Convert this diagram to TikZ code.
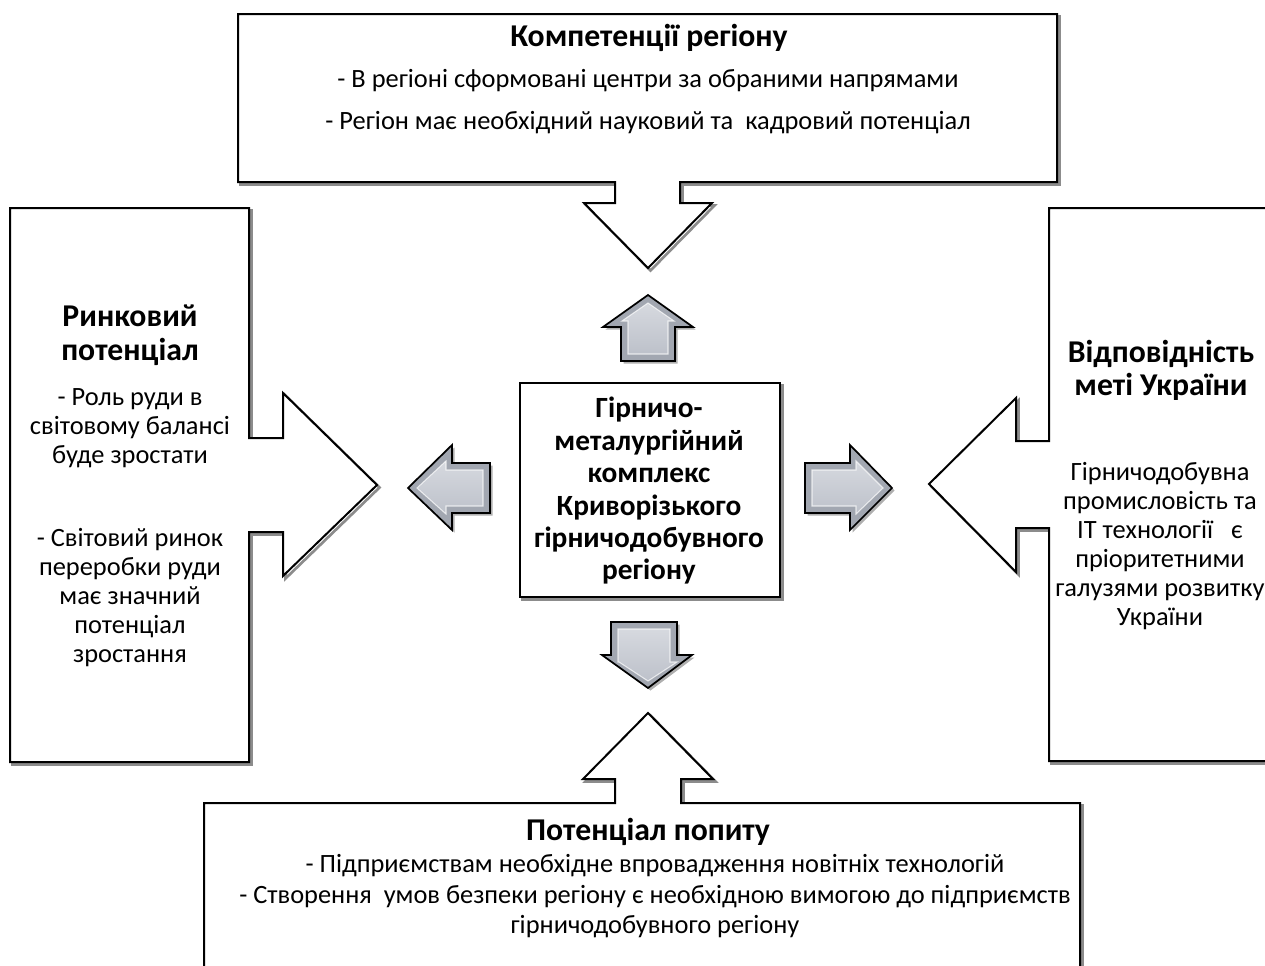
\documentclass[tikz,border=0pt]{standalone}
\usepackage{fontspec}
\setmainfont{Carlito}
\definecolor{arrlite}{HTML}{D6D9DF}
\definecolor{arrmid}{HTML}{BDC1CA}
\definecolor{arrdark}{HTML}{A2A7B1}
\definecolor{shadowgray}{HTML}{8C8C8C}
\begin{document}
\begin{tikzpicture}[x=0.75pt,y=-0.75pt,
  callout/.style={draw=black,line width=1.5pt,fill=white,line join=miter},
  cshadow/.style={draw=shadowgray,line width=2pt,line join=miter},
  bevelout/.style={draw=black,line width=1.3pt,fill=arrdark,line join=miter},
  bevelin/.style={top color=arrlite,bottom color=arrmid,draw=white,draw opacity=0.7,line width=0.8pt},
  ashadow/.style={fill=shadowgray!70},
  ttl/.style={font=\bfseries\fontsize{23.8}{25.5}\selectfont,align=center,inner sep=0pt},
  txt/.style={font=\fontsize{19.8}{21.75}\selectfont,align=center,inner sep=0pt},
  ctr/.style={font=\bfseries\fontsize{22}{24.3}\selectfont,align=center,inner sep=0pt}]
\useasboundingbox (0,0) rectangle (1265,965);
\clip (0,0) rectangle (1265,965);

% ---------- top callout ----------
\draw[cshadow,shift={(2.5,2.5)}] (238,14) -- (1057,14) -- (1057,182) -- (680,182) -- (680,203) -- (712,203) -- (648,268) -- (584,203) -- (615,203) -- (615,182) -- (238,182) -- cycle;
\draw[callout] (238,14) -- (1057,14) -- (1057,182) -- (680,182) -- (680,203) -- (712,203) -- (648,268) -- (584,203) -- (615,203) -- (615,182) -- (238,182) -- cycle;
\node[ttl] (toptitle) at (649,38) {Компетенції регіону};
\node[txt,font=\fontsize{19.8}{31.5}\selectfont] (topbody) at (648,102) {- В регіоні сформовані центри за обраними напрямами\\- Регіон має необхідний науковий та\ \ кадровий потенціал};

% ---------- left callout ----------
\draw[cshadow,shift={(2.5,2.5)}] (10,208) -- (249,208) -- (249,438) -- (283,438) -- (283,393) -- (377,485) -- (283,576) -- (283,532) -- (249,532) -- (249,762) -- (10,762) -- cycle;
\draw[callout] (10,208) -- (249,208) -- (249,438) -- (283,438) -- (283,393) -- (377,485) -- (283,576) -- (283,532) -- (249,532) -- (249,762) -- (10,762) -- cycle;
\node[ttl] (lefttitle) at (130,335) {Ринковий\\потенціал};
\node[txt] (leftbodyA) at (130,428) {- Роль руди в\\світовому балансі\\буде зростати};
\node[txt] (leftbodyB) at (130,598) {- Світовий ринок\\переробки руди\\має значний\\потенціал\\зростання};

% ---------- right callout ----------
\draw[cshadow,shift={(2.5,2.5)}] (1275,208) -- (1049,208) -- (1049,441) -- (1016,441) -- (1016,398) -- (929,484) -- (1016,572) -- (1016,528) -- (1049,528) -- (1049,761) -- (1275,761);
\draw[callout] (1275,208) -- (1049,208) -- (1049,441) -- (1016,441) -- (1016,398) -- (929,484) -- (1016,572) -- (1016,528) -- (1049,528) -- (1049,761) -- (1275,761) -- cycle;
\node[ttl,font=\bfseries\fontsize{23.8}{24.75}\selectfont] (righttitle) at (1161,370) {Відповідність\\меті України};
\node[txt] (rightbody) at (1160,546) {Гірничодобувна\\промисловість та\\IT технології\ \ \ є\\пріоритетними\\галузями розвитку\\України};

% ---------- bottom callout ----------
\draw[cshadow,shift={(2.5,2.5)}] (204,975) -- (204,803) -- (615,803) -- (615,779) -- (583,779) -- (648,713) -- (713,779) -- (681,779) -- (681,803) -- (1080,803) -- (1080,975);
\draw[callout] (204,975) -- (204,803) -- (615,803) -- (615,779) -- (583,779) -- (648,713) -- (713,779) -- (681,779) -- (681,803) -- (1080,803) -- (1080,975) -- cycle;
\node[ttl] (bottitle) at (648,832) {Потенціал попиту};
\node[txt,font=\fontsize{19.8}{22.9}\selectfont] (botbody) at (655,896.5) {- Підприємствам необхідне впровадження новітніх технологій\\- Створення\ \ умов безпеки регіону є необхідною вимогою до підприємств\\гірничодобувного регіону};

% ---------- central box ----------
\draw[cshadow,shift={(2.5,2.5)}] (520,383) rectangle (780,597);
\draw[callout,line width=1.3pt] (520,383) rectangle (780,597);
\node[ctr] (center) at (649,491) {Гірничо-\\металургійний\\комплекс\\Криворізького\\гірничодобувного\\регіону};

% ---------- small bevelled arrows ----------
% up
\fill[ashadow,shift={(2.5,2.5)}] (621,361) -- (621,327) -- (603,327) -- (648,295) -- (693,327) -- (675,327) -- (675,361) -- cycle;
\draw[bevelout] (621,361) -- (621,327) -- (603,327) -- (648,295) -- (693,327) -- (675,327) -- (675,361) -- cycle;
\shade[bevelin] (628,354) -- (628,321) -- (622,321) -- (648,303) -- (674,321) -- (668,321) -- (668,354) -- cycle;
% down
\fill[ashadow,shift={(2.5,2.5)}] (611,622) -- (677,622) -- (677,655) -- (692,655) -- (648,688) -- (602,655) -- (611,655) -- cycle;
\draw[bevelout] (611,622) -- (677,622) -- (677,655) -- (692,655) -- (648,688) -- (602,655) -- (611,655) -- cycle;
\shade[bevelin] (618,629) -- (670,629) -- (670,662) -- (677,662) -- (648,681) -- (619,662) -- (618,662) -- cycle;
% left
\fill[ashadow,shift={(2.5,2.5)}] (490,463) -- (452,463) -- (452,445) -- (408,488) -- (452,530) -- (452,513) -- (490,513) -- cycle;
\draw[bevelout] (490,463) -- (452,463) -- (452,445) -- (408,488) -- (452,530) -- (452,513) -- (490,513) -- cycle;
\shade[bevelin] (483,470) -- (446,470) -- (446,461) -- (417,488) -- (446,514) -- (446,506) -- (483,506) -- cycle;
% right
\fill[ashadow,shift={(2.5,2.5)}] (805,463) -- (850,463) -- (850,445) -- (892,488) -- (850,530) -- (850,513) -- (805,513) -- cycle;
\draw[bevelout] (805,463) -- (850,463) -- (850,445) -- (892,488) -- (850,530) -- (850,513) -- (805,513) -- cycle;
\shade[bevelin] (812,470) -- (856,470) -- (856,461) -- (883,488) -- (856,514) -- (856,506) -- (812,506) -- cycle;
\end{tikzpicture}
\end{document}
